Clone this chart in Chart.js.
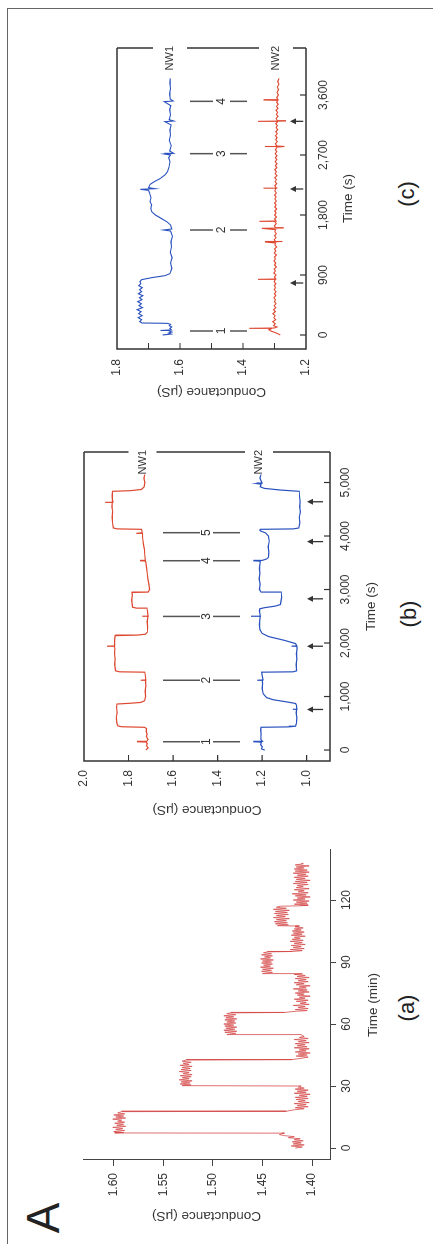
<!DOCTYPE html>
<html>
<head>
<meta charset="utf-8">
<script src="https://cdn.jsdelivr.net/npm/chart.js@4"></script>
<style>
  body { margin: 0; background: #fff; width: 433px; height: 1244px; overflow: hidden; position: relative; }
  /* the whole figure is laid out flat and turned a quarter turn */
  #fig { position: absolute; left: 0; top: 0; width: 1244px; height: 433px;
         transform-origin: 0 0; transform: translate(0, 1244px) rotate(-90deg);
         font-family: 'Liberation Sans', Arial, sans-serif; color: #222; }
  #fig canvas { position: absolute; }
  .frame { position: absolute; left: -10px; top: 7px; width: 1245px; height: 440px;
           border-top: 1.5px solid #666; border-right: 1.5px solid #666; }
  .lbl { position: absolute; transform: translate(-50%, -50%); line-height: 1; white-space: nowrap; }
</style>
</head>
<body>
<div id="fig">
  <div class="frame"></div>
  <div class="lbl" style="left:26px;top:43px;font-size:46px">A</div>
  <canvas id="chartA" width="420" height="330" style="left:0;top:60px"></canvas>
  <canvas id="chartB" width="400" height="330" style="left:420px;top:60px"></canvas>
  <canvas id="chartC" width="400" height="330" style="left:830px;top:60px"></canvas>
  <div class="lbl" style="left:236px;top:407px;font-size:22px">(a)</div>
  <div class="lbl" style="left:630px;top:409px;font-size:22px">(b)</div>
  <div class="lbl" style="left:1050px;top:407px;font-size:22px">(c)</div>
</div>

<script>
// (a) single wire, time in minutes
const timeA = [
  0, 0.5, 1, 1.5, 2, 2.5, 3, 3.5, 4, 4.5, 5, 5.5, 6, 6.5, 7, 7.2,
  7.3, 7.5, 8, 8.5, 9, 9.5, 10, 10.5, 11, 11.5, 12, 12.5, 13, 13.5, 14, 14.5, 15, 15.5, 16, 16.5, 17, 17.6,
  17.8, 18.5, 19, 19.5, 20, 20.5, 21, 21.5, 22, 22.5, 23, 23.5, 24, 24.5, 25, 25.5, 26, 26.5, 27, 27.5, 28, 28.5, 29, 29.5, 30,
  30.2, 30.5, 31, 31.5, 32, 32.5, 33, 33.5, 34, 34.5, 35, 35.5, 36, 36.5, 37, 37.5, 38, 38.5, 39, 39.5, 40, 40.5, 41, 41.5, 42, 42.6,
  42.8, 43.5, 44, 44.5, 45, 45.5, 46, 46.5, 47, 47.5, 48, 48.5, 49, 49.5, 50, 50.5, 51, 51.5, 52, 52.5, 53, 53.5, 54, 54.7,
  54.9, 55.5, 56, 56.5, 57, 57.5, 58, 58.5, 59, 59.5, 60, 60.5, 61, 61.5, 62, 62.5, 63, 63.5, 64, 64.5, 65, 65.4,
  65.6, 66.2,
  66.5, 67, 67.5, 68, 68.5, 69, 69.5, 70, 70.5, 71, 71.5, 72, 72.5, 73, 73.5, 74, 74.5, 75,
  75.5, 76, 76.5, 77, 77.5, 78, 78.5, 79, 79.5, 80, 80.5, 81, 81.5, 82, 82.5, 83, 83.5, 84,
  84.2,
  84.4, 85, 85.5, 86, 86.5, 87, 87.5, 88, 88.5, 89, 89.5, 90, 90.5, 91, 91.5, 92, 92.5, 93, 93.5, 94, 94.5, 94.9,
  95.1, 95.5, 96, 96.5, 97, 97.5, 98, 98.5, 99, 99.5, 100, 100.5, 101, 101.5, 102, 102.5, 103, 103.5, 104, 104.5, 105, 105.5, 106, 106.5, 107, 107.4,
  107.6, 108, 108.5, 109, 109.5, 110, 110.5, 111, 111.5, 112, 112.5, 113, 113.5, 114, 114.5, 115, 115.5, 116, 116.5, 117,
  117.2,
  117.5, 118, 118.5, 119, 119.5, 120, 120.5, 121, 121.5, 122, 122.5, 123, 123.5, 124, 124.5, 125, 125.5, 126, 126.5, 127,
  127.5, 128, 128.5, 129, 129.5, 130, 130.5, 131, 131.5, 132, 132.5, 133, 133.5, 134, 134.5, 135, 135.5, 136, 136.5, 137, 137.5,
  137.7
];
const condA = [
  1.417, 1.410, 1.421, 1.408, 1.419, 1.411, 1.420, 1.409, 1.418, 1.412, 1.424, 1.418, 1.428, 1.433, 1.430, 1.428,
  1.599, 1.590, 1.600, 1.589, 1.598, 1.591, 1.601, 1.588, 1.597, 1.590, 1.599, 1.589, 1.596, 1.592, 1.601, 1.588, 1.598, 1.590, 1.600, 1.589, 1.596, 1.592,
  1.426, 1.418, 1.408, 1.417, 1.404, 1.415, 1.406, 1.418, 1.403, 1.414, 1.407, 1.416, 1.404, 1.417, 1.405, 1.413, 1.402, 1.418, 1.406, 1.415, 1.404, 1.417, 1.408, 1.414, 1.411,
  1.531, 1.522, 1.533, 1.523, 1.532, 1.521, 1.534, 1.524, 1.531, 1.522, 1.533, 1.521, 1.530, 1.524, 1.534, 1.522, 1.532, 1.523, 1.531, 1.521, 1.533, 1.524, 1.530, 1.522, 1.531, 1.527,
  1.420, 1.410, 1.404, 1.416, 1.405, 1.414, 1.402, 1.417, 1.406, 1.413, 1.403, 1.418, 1.405, 1.415, 1.407, 1.417, 1.403, 1.414, 1.406, 1.418, 1.404, 1.413, 1.408, 1.411,
  1.486, 1.477, 1.488, 1.476, 1.489, 1.478, 1.487, 1.476, 1.488, 1.479, 1.489, 1.477, 1.486, 1.478, 1.488, 1.476, 1.487, 1.479, 1.489, 1.477, 1.486, 1.482,
  1.428, 1.416,
  1.405, 1.417, 1.404, 1.414, 1.407, 1.419, 1.403, 1.412, 1.406, 1.416, 1.404, 1.418, 1.407, 1.413, 1.402, 1.415, 1.408, 1.417,
  1.403, 1.414, 1.405, 1.419, 1.406, 1.413, 1.402, 1.416, 1.408, 1.418, 1.404, 1.414, 1.406, 1.417, 1.403, 1.415, 1.407, 1.418,
  1.410,
  1.450, 1.440, 1.451, 1.441, 1.450, 1.439, 1.452, 1.442, 1.449, 1.440, 1.451, 1.441, 1.450, 1.439, 1.452, 1.442, 1.448, 1.440, 1.451, 1.441, 1.449, 1.445,
  1.420, 1.410, 1.422, 1.408, 1.419, 1.411, 1.421, 1.407, 1.418, 1.410, 1.422, 1.409, 1.420, 1.412, 1.418, 1.407, 1.421, 1.410, 1.419, 1.408, 1.420, 1.411, 1.418, 1.409, 1.417, 1.413,
  1.435, 1.424, 1.437, 1.425, 1.438, 1.426, 1.436, 1.423, 1.439, 1.427, 1.436, 1.424, 1.438, 1.425, 1.437, 1.423, 1.439, 1.426, 1.436, 1.432,
  1.412,
  1.404, 1.418, 1.405, 1.416, 1.403, 1.419, 1.407, 1.415, 1.402, 1.417, 1.406, 1.420, 1.404, 1.414, 1.408, 1.418, 1.403, 1.416, 1.409, 1.415,
  1.404, 1.419, 1.405, 1.417, 1.402, 1.416, 1.407, 1.418, 1.404, 1.415, 1.406, 1.419, 1.403, 1.417, 1.405, 1.418, 1.408, 1.416, 1.403, 1.417, 1.409,
  1.411
];
const ticksAx = [0, 30, 60, 90, 120];
const ticksAy = [1.40, 1.45, 1.50, 1.55, 1.60];

// (b) two wires, time in seconds
const timeB1 = [
  0, 40, 80, 120, 150, 155, 162, 200, 250, 300, 350, 400, 425,
  435, 450, 500, 600, 700, 800, 860,
  875, 890, 920, 1000, 1100, 1200, 1298, 1304, 1310, 1400, 1455,
  1462, 1480, 1600, 1700, 1800, 1900, 1935, 1940, 1946, 2050, 2138,
  2148, 2165, 2200, 2300, 2400, 2490, 2497, 2504, 2600, 2645,
  2652, 2670, 2800, 2900, 2945,
  2952, 3000, 3100, 3200, 3300, 3400, 3500, 3532, 3538, 3544, 3650, 3750, 3850, 3950, 4040, 4050, 4060, 4100, 4125,
  4133, 4150, 4250, 4350, 4450, 4550, 4620, 4626, 4632, 4750, 4835,
  4848, 4870, 4920, 5000, 5080, 5150
];
const condB1 = [
  1.722, 1.712, 1.720, 1.716, 1.722, 1.762, 1.718, 1.712, 1.720, 1.717, 1.721, 1.719, 1.728,
  1.830, 1.848, 1.852, 1.855, 1.851, 1.854, 1.852,
  1.790, 1.745, 1.728, 1.723, 1.725, 1.722, 1.724, 1.745, 1.722, 1.725, 1.727,
  1.840, 1.858, 1.862, 1.860, 1.863, 1.861, 1.864, 1.897, 1.862, 1.862, 1.860,
  1.760, 1.724, 1.716, 1.714, 1.716, 1.713, 1.738, 1.712, 1.715, 1.717,
  1.765, 1.782, 1.786, 1.783, 1.785,
  1.712, 1.705, 1.709, 1.713, 1.716, 1.719, 1.722, 1.724, 1.748, 1.724, 1.727, 1.729, 1.733, 1.736, 1.738, 1.765, 1.739, 1.740, 1.742,
  1.850, 1.868, 1.872, 1.874, 1.871, 1.875, 1.873, 1.905, 1.871, 1.874, 1.872,
  1.790, 1.742, 1.730, 1.727, 1.731, 1.727
];
const timeB2 = [
  0, 20, 60, 100, 148, 155, 162, 200, 300, 380, 425,
  433, 445, 500, 600, 700, 752, 758, 764, 840, 870,
  900, 940, 980, 1050, 1150, 1250, 1298, 1304, 1310, 1400, 1455,
  1462, 1480, 1600, 1700, 1800, 1900, 1935, 1940, 1946, 1990,
  2050, 2120, 2180, 2250, 2350, 2490, 2497, 2504, 2600, 2640,
  2660, 2690, 2720, 2850, 2945,
  2952, 3000, 3100, 3200, 3300, 3400, 3530, 3537, 3544, 3570, 3600, 3700, 3800, 3900, 4000, 4060, 4090, 4110, 4125,
  4133, 4150, 4250, 4350, 4450, 4550, 4640, 4750, 4835,
  4860, 4890, 4920, 4970, 4980, 4990, 5080, 5150
];
const condB2 = [
  1.188, 1.203, 1.199, 1.206, 1.203, 1.240, 1.198, 1.206, 1.204, 1.207, 1.205,
  1.080, 1.050, 1.046, 1.044, 1.047, 1.045, 1.062, 1.044, 1.046, 1.050,
  1.090, 1.150, 1.180, 1.195, 1.200, 1.198, 1.200, 1.222, 1.196, 1.200, 1.202,
  1.060, 1.045, 1.047, 1.044, 1.046, 1.043, 1.045, 1.068, 1.044, 1.050,
  1.100, 1.170, 1.200, 1.210, 1.212, 1.209, 1.250, 1.208, 1.212, 1.210,
  1.190, 1.140, 1.118, 1.112, 1.114,
  1.205, 1.212, 1.209, 1.213, 1.210, 1.212, 1.208, 1.240, 1.200, 1.180, 1.172, 1.170, 1.173, 1.168, 1.172, 1.185, 1.205, 1.210, 1.208,
  1.060, 1.035, 1.030, 1.033, 1.028, 1.031, 1.029, 1.032, 1.033,
  1.120, 1.190, 1.208, 1.205, 1.225, 1.200, 1.210, 1.205
];
const ticksBx = [0, 1000, 2000, 3000, 4000, 5000];
const ticksBy = [1.0, 1.2, 1.4, 1.6, 1.8, 2.0];
const namesB = ['NW1', 'NW2'];
const levelsB = [1.737, 1.214];
const markersB = [155, 1304, 2497, 3538, 4062];
const arrowsB = [758, 1940, 2826, 3895, 4640];

// (c) two wires, time in seconds
const timeC1 = [
  0, 15, 30, 45, 60, 68, 76, 100, 120, 140, 160, 175,
  180, 200, 230, 260, 290, 320, 350, 380, 410, 440, 470, 500, 530, 560, 590, 620, 650, 680, 710, 740, 770, 800, 830,
  860, 890, 920, 1000, 1080, 1160, 1240, 1320, 1400, 1480, 1560, 1575, 1590, 1650,
  1700, 1750, 1800, 1850, 1900, 1950, 2000, 2060, 2120, 2170, 2185, 2195, 2210, 2260,
  2300, 2350, 2400, 2450, 2520, 2600, 2660, 2700, 2715, 2725, 2760, 2840, 2920, 3000, 3080, 3150, 3200, 3210, 3230, 3300,
  3380, 3440, 3500, 3510, 3540, 3620, 3700, 3780, 3850
];
const condC1 = [
  1.655, 1.628, 1.636, 1.626, 1.634, 1.662, 1.627, 1.632, 1.626, 1.634, 1.630, 1.640,
  1.720, 1.728, 1.722, 1.733, 1.720, 1.731, 1.724, 1.736, 1.719, 1.730, 1.723, 1.734, 1.721, 1.729, 1.718, 1.732, 1.722, 1.728, 1.720, 1.731, 1.724, 1.727, 1.722,
  1.690, 1.648, 1.632, 1.626, 1.630, 1.625, 1.631, 1.627, 1.629, 1.624, 1.630, 1.652, 1.626, 1.630,
  1.642, 1.660, 1.678, 1.690, 1.693, 1.690, 1.695, 1.692, 1.696, 1.700, 1.726, 1.680, 1.700, 1.695,
  1.682, 1.662, 1.648, 1.640, 1.635, 1.632, 1.636, 1.630, 1.650, 1.620, 1.633, 1.628, 1.634, 1.630, 1.632, 1.628, 1.648, 1.620, 1.634, 1.630,
  1.633, 1.629, 1.650, 1.622, 1.631, 1.633, 1.630, 1.632, 1.631
];
const timeC2 = [
  0, 20, 40, 60, 80, 95, 100, 105, 120, 140,
  170, 200, 230, 260, 290, 320, 350, 380, 410, 440,
  470, 500, 530, 560, 590, 620, 650, 680, 710, 740,
  770, 800, 830, 835, 840, 870, 900, 930, 960, 990,
  1020, 1050, 1080, 1110, 1140, 1170, 1200, 1230, 1260, 1290,
  1320, 1350, 1380, 1395, 1400, 1405, 1430, 1460, 1490, 1520,
  1550, 1580, 1600, 1605, 1610, 1640, 1670, 1700, 1705, 1710,
  1740, 1770, 1800, 1830, 1860, 1890, 1920, 1950, 1980, 2010,
  2040, 2070, 2100, 2130, 2160, 2195, 2200, 2205, 2240, 2270,
  2300, 2330, 2360, 2390, 2420, 2450, 2480, 2510, 2540, 2570,
  2600, 2630, 2660, 2690, 2720, 2750, 2780, 2820, 2825, 2830,
  2835, 2870, 2900, 2930, 2960, 2990, 3020, 3050, 3080, 3110,
  3140, 3170, 3200, 3205, 3210, 3215, 3250, 3280, 3310, 3340,
  3370, 3400, 3430, 3460, 3490, 3520, 3525, 3530, 3560, 3600,
  3640, 3680, 3720, 3760, 3800, 3850
];
const condC2 = [
  1.282, 1.290, 1.300, 1.312, 1.318, 1.310, 1.380, 1.300, 1.292, 1.303,
  1.298, 1.306, 1.296, 1.302, 1.298, 1.305, 1.297, 1.303, 1.296, 1.301,
  1.295, 1.300, 1.297, 1.302, 1.296, 1.300, 1.295, 1.301, 1.297, 1.300,
  1.296, 1.301, 1.298, 1.352, 1.296, 1.300, 1.295, 1.302, 1.297, 1.301,
  1.294, 1.300, 1.296, 1.302, 1.297, 1.300, 1.294, 1.301, 1.296, 1.300,
  1.293, 1.299, 1.296, 1.330, 1.275, 1.297, 1.301, 1.295, 1.300, 1.294,
  1.299, 1.296, 1.340, 1.272, 1.297, 1.300, 1.294, 1.299, 1.348, 1.295,
  1.300, 1.294, 1.300, 1.295, 1.299, 1.293, 1.299, 1.295, 1.300, 1.294,
  1.299, 1.295, 1.300, 1.294, 1.299, 1.296, 1.335, 1.294, 1.299, 1.293,
  1.298, 1.294, 1.299, 1.292, 1.298, 1.294, 1.299, 1.293, 1.297, 1.292,
  1.298, 1.293, 1.297, 1.292, 1.298, 1.293, 1.297, 1.292, 1.330, 1.268,
  1.293, 1.297, 1.291, 1.296, 1.292, 1.297, 1.291, 1.296, 1.290, 1.295,
  1.291, 1.296, 1.290, 1.352, 1.265, 1.291, 1.295, 1.289, 1.294, 1.290,
  1.295, 1.289, 1.294, 1.288, 1.293, 1.290, 1.335, 1.289, 1.293, 1.288,
  1.292, 1.287, 1.291, 1.286, 1.290, 1.286
];
const ticksCx = [0, 900, 1800, 2700, 3600];
const ticksCy = [1.2, 1.4, 1.6, 1.8];
const minorCy = [1.3, 1.4, 1.5, 1.6, 1.7];
const namesC = ['NW1', 'NW2'];
const levelsC = [1.632, 1.295];
const markersC = [60, 1575, 2720, 3505];
const arrowsC = [780, 2190, 3205];

const RED_A = 'rgb(214,76,76)';
const RED = 'rgb(222,72,48)';
const BLUE = 'rgb(42,82,190)';
const INK = '#333';

Chart.defaults.font.family = "'Liberation Sans', Arial, sans-serif";
Chart.defaults.color = INK;

function trace(ts, vs, color, width) {
  return {
    data: ts.map((t, i) => ({ x: t, y: vs[i] })),
    borderColor: color, borderWidth: width,
    pointRadius: 0, tension: 0, fill: false
  };
}
function setTicks(list) {
  return s => { s.ticks = list.map(v => ({ value: v })); };
}
function fixWidth(w) {
  return s => { s.width = w; s.paddingTop = 0; s.paddingBottom = 0; };
}
function fixHeight(h) {
  return s => { s.height = h; s.paddingLeft = 0; s.paddingRight = 0; };
}
const fmtInt = v => Number(v).toLocaleString('en-US');

// box with inward ticks, wire names in gaps, numbered markers and arrows
function decor(o) {
  return {
    id: 'decor',
    afterDatasetsDraw(chart) {
      const { ctx, chartArea: a } = chart;
      const xs = chart.scales.x, ys = chart.scales.y;
      ctx.save();
      ctx.strokeStyle = INK;
      ctx.lineWidth = 1.5;
      ctx.beginPath();
      ctx.moveTo(a.right, a.top); ctx.lineTo(a.left, a.top);
      ctx.lineTo(a.left, a.bottom); ctx.lineTo(a.right, a.bottom);
      const gaps = o.levels.map(v => ys.getPixelForValue(v)).sort((p, q) => p - q);
      let from = a.top;
      gaps.forEach(g => {
        ctx.moveTo(a.right, from); ctx.lineTo(a.right, g - o.gap);
        from = g + o.gap;
      });
      ctx.moveTo(a.right, from); ctx.lineTo(a.right, a.bottom);
      ctx.stroke();

      // ticks pointing inside
      ctx.lineWidth = 1.2;
      ctx.beginPath();
      o.xTicks.forEach(t => {
        const px = xs.getPixelForValue(t);
        ctx.moveTo(px, a.bottom); ctx.lineTo(px, a.bottom - 6);
      });
      o.yTicks.forEach(v => {
        const py = ys.getPixelForValue(v);
        ctx.moveTo(a.left, py); ctx.lineTo(a.left + 6, py);
      });
      ctx.stroke();

      ctx.font = "11px 'Liberation Sans', Arial, sans-serif";
      ctx.fillStyle = INK;
      ctx.textAlign = 'right';
      ctx.textBaseline = 'middle';
      o.names.forEach((n, i) => ctx.fillText(n, a.right + 2, ys.getPixelForValue(o.levels[i])));

      // numbered markers
      ctx.strokeStyle = '#555';
      ctx.lineWidth = 1.5;
      ctx.font = "12px 'Liberation Sans', Arial, sans-serif";
      ctx.textAlign = 'center';
      ctx.beginPath();
      o.markers.forEach((t, i) => {
        const px = xs.getPixelForValue(t);
        const s = o.markSpan.map(v => ys.getPixelForValue(v));
        ctx.moveTo(px, s[0]); ctx.lineTo(px, s[1]);
        ctx.moveTo(px, s[2]); ctx.lineTo(px, s[3]);
        ctx.fillText(String(i + 1), px, ys.getPixelForValue(o.markLabel));
      });
      ctx.stroke();

      // arrows pointing up at the lower wire
      ctx.strokeStyle = INK;
      ctx.lineWidth = 1.3;
      o.arrows.forEach(t => {
        const px = xs.getPixelForValue(t);
        const yh = ys.getPixelForValue(o.arrowSpan[0]);
        const yt = ys.getPixelForValue(o.arrowSpan[1]);
        ctx.beginPath();
        ctx.moveTo(px, yt); ctx.lineTo(px, yh + 4);
        ctx.stroke();
        ctx.beginPath();
        ctx.moveTo(px, yh); ctx.lineTo(px - 3, yh + 6); ctx.lineTo(px + 3, yh + 6);
        ctx.closePath();
        ctx.fill();
      });
      ctx.restore();
    }
  };
}

const hidden = { display: false, drawTicks: false };
const outward = { display: true, drawOnChartArea: false, drawTicks: true, tickLength: 6, color: '#444', lineWidth: 1 };
const base = {
  responsive: false,
  animation: false,
  plugins: { legend: { display: false }, tooltip: { enabled: false } }
};

// (a)
new Chart(document.getElementById('chartA'), {
  type: 'line',
  data: { datasets: [trace(timeA, condA, RED_A, 0.8)] },
  options: Object.assign({}, base, {
    layout: { padding: { top: 23, right: 26, left: 0, bottom: 0 } },
    scales: {
      x: {
        type: 'linear', min: -5.8, max: 144.2,
        afterBuildTicks: setTicks(ticksAx), afterFit: fixHeight(60),
        grid: outward, border: { display: true, color: '#444', width: 1 },
        ticks: { padding: 3, font: { size: 12 }, maxRotation: 0, autoSkip: false, callback: v => String(v) },
        title: { display: true, text: 'Time (min)', font: { size: 13.5 }, padding: { top: 0, bottom: 9 } }
      },
      y: {
        type: 'linear', min: 1.382, max: 1.631,
        afterBuildTicks: setTicks(ticksAy), afterFit: fixWidth(84),
        grid: outward, border: { display: true, color: '#444', width: 1 },
        ticks: { padding: 7, font: { size: 12 }, callback: v => v.toFixed(2) },
        title: { display: true, text: 'Conductance (μS)', font: { size: 13.5 }, padding: { top: 20, bottom: 0 } }
      }
    }
  })
});

// (b)
new Chart(document.getElementById('chartB'), {
  type: 'line',
  data: { datasets: [trace(timeB1, condB1, RED, 1.2), trace(timeB2, condB2, BLUE, 1.2)] },
  options: Object.assign({}, base, {
    layout: { padding: { top: 24, right: 28, left: 0, bottom: 0 } },
    scales: {
      x: {
        type: 'linear', min: -205, max: 5570,
        afterBuildTicks: setTicks(ticksBx), afterFit: fixHeight(60),
        grid: hidden, border: { display: false },
        ticks: { padding: 8, font: { size: 12 }, maxRotation: 0, autoSkip: false, callback: fmtInt },
        title: { display: true, text: 'Time (s)', font: { size: 13.5 }, padding: { top: 0, bottom: 11 } }
      },
      y: {
        type: 'linear', min: 0.895, max: 2.0,
        afterBuildTicks: setTicks(ticksBy), afterFit: fixWidth(63),
        grid: hidden, border: { display: false },
        ticks: { padding: 9, font: { size: 12 }, callback: v => v.toFixed(1) },
        title: { display: true, text: 'Conductance (μS)', font: { size: 13.5 }, padding: { top: 6, bottom: 0 } }
      }
    }
  }),
  plugins: [decor({
    names: namesB, levels: levelsB, gap: 14,
    xTicks: ticksBx, yTicks: [1.0, 1.2, 1.4, 1.6, 1.8],
    markers: markersB, markSpan: [1.645, 1.479, 1.420, 1.299], markLabel: 1.449,
    arrows: arrowsB, arrowSpan: [0.998, 0.926]
  })]
});

// (c)
new Chart(document.getElementById('chartC'), {
  type: 'line',
  data: { datasets: [trace(timeC1, condC1, BLUE, 1.1), trace(timeC2, condC2, RED, 1.1)] },
  options: Object.assign({}, base, {
    layout: { padding: { top: 57, right: 34, left: 0, bottom: 0 } },
    scales: {
      x: {
        type: 'linear', min: -210, max: 4305,
        afterBuildTicks: setTicks(ticksCx), afterFit: fixHeight(84),
        grid: hidden, border: { display: false },
        ticks: { padding: 10, font: { size: 12 }, maxRotation: 0, autoSkip: false, callback: fmtInt },
        title: { display: true, text: 'Time (s)', font: { size: 13.5 }, padding: { top: 0, bottom: 34 } }
      },
      y: {
        type: 'linear', min: 1.2, max: 1.8,
        afterBuildTicks: setTicks(ticksCy), afterFit: fixWidth(65),
        grid: hidden, border: { display: false },
        ticks: { padding: 10, font: { size: 12 }, callback: v => v.toFixed(1) },
        title: { display: true, text: 'Conductance (μS)', font: { size: 13.5 }, padding: { top: 14, bottom: 0 } }
      }
    }
  }),
  plugins: [decor({
    names: namesC, levels: levelsC, gap: 17,
    xTicks: ticksCx, yTicks: minorCy,
    markers: markersC, markSpan: [1.568, 1.495, 1.441, 1.387], markLabel: 1.468,
    arrows: arrowsC, arrowSpan: [1.251, 1.209]
  })]
});
</script>
</body>
</html>
